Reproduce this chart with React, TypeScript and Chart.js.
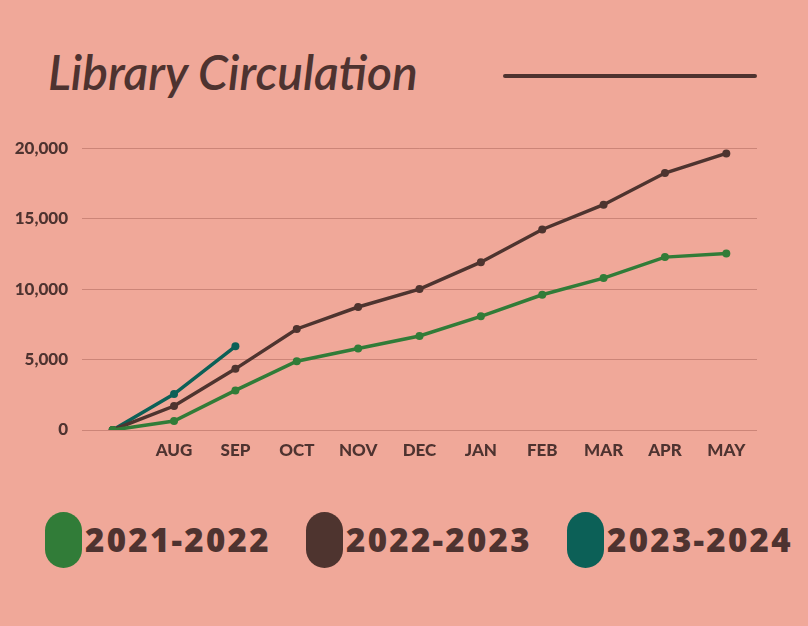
import { useEffect, useRef } from "react";
import { Chart, registerables } from "chart.js";

Chart.register(...registerables);

// dados
const months = ["", "AUG", "SEP", "OCT", "NOV", "DEC", "JAN", "FEB", "MAR", "APR", "MAY"];
const circ2122 = [0, 640, 2810, 4880, 5780, 6670, 8070, 9600, 10780, 12270, 12530];
const circ2223 = [0, 1700, 4340, 7170, 8730, 10000, 11910, 14230, 15990, 18240, 19630];
const circ2324 = [0, 2550, 5940];
const seriesNames = ["2021-2022", "2022-2023", "2023-2024"];
const seriesColors = ["#317C38", "#4E342F", "#0C6057"];
const yTicks = [0, 5000, 10000, 15000, 20000];

const BG = "#F0A899";
const INK = "#4E3330";

export default function App() {
  const canvasRef = useRef<HTMLCanvasElement | null>(null);

  useEffect(() => {
    const ctx = canvasRef.current!.getContext("2d")!;
    const series = [circ2122, circ2223, circ2324];
    const myChart = new Chart(ctx, {
      type: "line",
      data: {
        labels: months,
        datasets: series.map((d, i) => ({
          label: seriesNames[i],
          data: d,
          borderColor: seriesColors[i],
          backgroundColor: seriesColors[i],
          borderWidth: 3.5,
          pointRadius: 4,
          pointBorderWidth: 0,
          fill: false,
          tension: 0,
        })),
      },
      options: {
        responsive: false,
        animation: false,
        layout: { padding: { left: 0, right: 51, top: 0, bottom: 0 } },
        plugins: {
          legend: { display: false },
          title: { display: false },
          tooltip: { enabled: false },
        },
        scales: {
          x: {
            offset: true,
            grid: { display: false },
            border: { display: false },
            ticks: {
              color: INK,
              padding: 2,
              maxRotation: 0,
              autoSkip: false,
              font: { family: "Lato", size: 17, weight: 900 },
            },
            afterFit: (scale: any) => {
              scale.height = 40;
            },
          },
          y: {
            min: 0,
            max: 20000,
            afterBuildTicks: (scale: any) => {
              scale.ticks = yTicks.map((v) => ({ value: v }));
            },
            grid: { color: "rgba(160, 90, 80, 0.45)", drawTicks: false, lineWidth: 1 },
            border: { display: false },
            ticks: {
              color: INK,
              padding: 14,
              font: { family: "Lato", size: 17, weight: 900 },
              callback: (v: any) => Number(v).toLocaleString("en-US"),
            },
            afterFit: (scale: any) => {
              scale.width = 82;
            },
          },
        },
      },
    });

    return () => {
      myChart.destroy();
    };
  }, []);

  return (
    <div
      style={{
        position: "fixed",
        left: 0,
        top: 0,
        width: 808,
        height: 626,
        background: BG,
        overflow: "hidden",
      }}
    >
      <div
        style={{
          position: "absolute",
          left: 48,
          top: 43,
          fontFamily: "Lato",
          fontStyle: "italic",
          fontWeight: 600,
          fontSize: 48,
          color: INK,
          whiteSpace: "nowrap",
        }}
      >
        Library Circulation
      </div>
      <div
        style={{
          position: "absolute",
          left: 503,
          top: 74,
          width: 254,
          height: 4,
          borderRadius: 2,
          background: INK,
        }}
      />
      <canvas
        ref={canvasRef}
        width={808}
        height={346}
        style={{ position: "absolute", left: 0, top: 124, width: 808, height: 346 }}
      ></canvas>
      {seriesNames.map((name, i) => (
        <div
          key={name}
          style={{
            position: "absolute",
            left: 45 + i * 261,
            top: 512,
            height: 56,
            display: "flex",
            alignItems: "center",
          }}
        >
          <div
            style={{
              width: 37,
              height: 56,
              borderRadius: 19,
              background: seriesColors[i],
              marginRight: 3,
            }}
          />
          <span
            style={{
              fontFamily: "Open Sans",
              fontWeight: 800,
              fontSize: 33,
              letterSpacing: 2.3,
              color: INK,
              lineHeight: "56px",
            }}
          >
            {name}
          </span>
        </div>
      ))}
    </div>
  );
}
